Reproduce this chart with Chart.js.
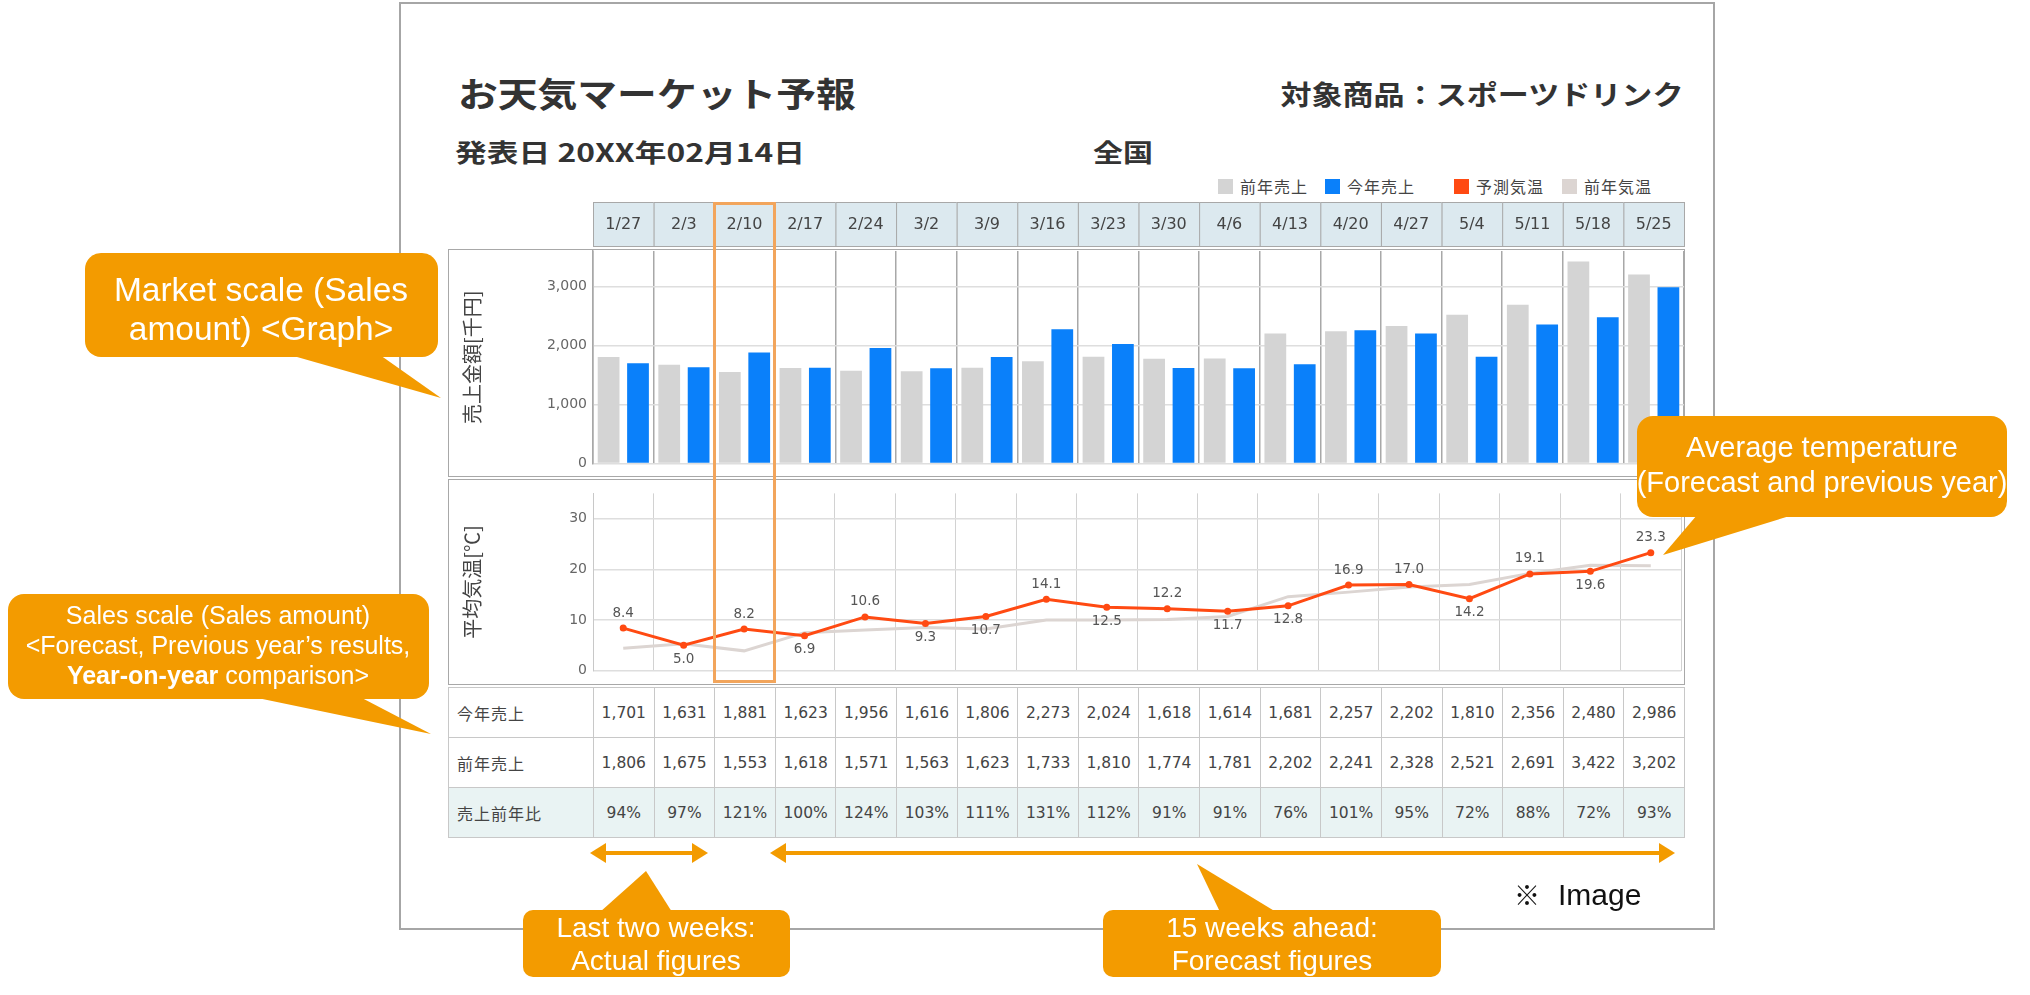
<!DOCTYPE html>
<html lang="ja">
<head>
<meta charset="utf-8">
<title>お天気マーケット予報</title>
<script src="https://cdn.jsdelivr.net/npm/chart.js@4.4.1/dist/chart.umd.min.js"></script>
<style>
  html, body { margin: 0; padding: 0; background: #fff; }
  body { width: 2030px; height: 995px; position: relative; overflow: hidden; font-family: "Noto Sans CJK JP", "DejaVu Sans", sans-serif; color: #333; }
  .abs { position: absolute; }
  #frame { left: 399px; top: 2px; width: 1316px; height: 928px; box-sizing: border-box; border: 2px solid #a6a6a6; }
  .head { font-weight: bold; color: #333; white-space: nowrap; line-height: 1; }
  #title { left: 458px; top: 76px; font-size: 34px; transform: scaleX(1.17); transform-origin: left center; }
  #product { right: 347px; top: 80px; font-size: 27px; transform: scaleX(1.15); transform-origin: right center; }
  #issued { left: 455px; top: 139px; font-size: 25px; transform: scaleX(1.27); transform-origin: left center; }
  #area { left: 1093px; top: 139px; font-size: 25px; transform: scaleX(1.2); transform-origin: left center; }
  .legend-item { top: 178px; height: 16px; display: flex; align-items: center; font-size: 16px; letter-spacing: 1px; color: #444; white-space: nowrap; }
  .legend-item i { display: inline-block; width: 15px; height: 15px; margin-right: 7px; }
  .panel { left: 448px; width: 1237px; box-sizing: border-box; border: 1.5px solid #a8a8a8; }
  canvas.abs { left: 448px; }
  #pick { box-sizing: border-box; border: 3px solid #f2a55c; }
  #grid { left: 448px; top: 687px; width: 1237px; border-collapse: collapse; table-layout: fixed; border: 1.5px solid #a8a8a8; }
  #grid td { height: 49px; border: 1px solid #c8c8c8; text-align: center; font-family: "DejaVu Sans", sans-serif; font-size: 15.5px; color: #444; padding: 0; }
  #grid td.lab { text-align: left; padding-left: 8px; font-family: "Noto Sans CJK JP", sans-serif; font-size: 16px; letter-spacing: 1px; }
  #grid tr.ratio td { background: #e9f3f3; }
</style>
</head>
<body>
<div id="frame" class="abs"></div>
<div id="title" class="abs head">お天気マーケット予報</div>
<div id="product" class="abs head">対象商品：スポーツドリンク</div>
<div id="issued" class="abs head">発表日 20XX年02月14日</div>
<div id="area" class="abs head">全国</div>
<div id="legend"></div>

<div class="abs panel" style="top:249px;height:228px"></div>
<div class="abs panel" style="top:479px;height:206px"></div>
<canvas id="salesChart" class="abs" style="top:198px" width="1237" height="280"></canvas>
<canvas id="tempChart" class="abs" style="top:479px" width="1237" height="206"></canvas>
<table id="grid" class="abs"></table>
<div id="pick" class="abs"></div>

<svg class="abs" style="left:0;top:0" width="2030" height="995">
  <g fill="#f39b00">
    <rect x="85" y="253" width="353" height="104" rx="16"/>
    <polygon points="290,355 380,355 441,398"/>
    <rect x="8" y="594" width="421" height="105" rx="16"/>
    <polygon points="253,697 360,697 431,734"/>
    <rect x="1637" y="416" width="370" height="101" rx="16"/>
    <polygon points="1697,515 1793,515 1663,555"/>
    <rect x="523" y="910" width="267" height="67" rx="10"/>
    <polygon points="600,912 672,912 646,871"/>
    <rect x="1103" y="910" width="338" height="67" rx="10"/>
    <polygon points="1220,912 1276,912 1197,864"/>
  </g>
  <g stroke="#f39b00" stroke-width="4">
    <line x1="600" y1="853" x2="698" y2="853"/>
    <line x1="780" y1="853" x2="1664" y2="853"/>
  </g>
  <g fill="#f39b00">
    <polygon points="590,853 606,843 606,863"/>
    <polygon points="708,853 692,843 692,863"/>
    <polygon points="770,853 786,843 786,863"/>
    <polygon points="1675,853 1659,843 1659,863"/>
  </g>
  <g fill="#fff" font-family="Liberation Sans, Arial, sans-serif" text-anchor="middle">
    <text x="261" y="301" font-size="33.5">Market scale (Sales</text>
    <text x="261" y="340" font-size="33.5">amount) &lt;Graph&gt;</text>
    <text x="218" y="624" font-size="25">Sales scale (Sales amount)</text>
    <text x="218" y="654" font-size="25">&lt;Forecast, Previous year’s results,</text>
    <text x="218" y="684" font-size="25"><tspan font-weight="bold">Year-on-year</tspan> comparison&gt;</text>
    <text x="1822" y="457" font-size="29">Average temperature</text>
    <text x="1822" y="492" font-size="29">(Forecast and previous year)</text>
    <text x="656" y="937" font-size="28">Last two weeks:</text>
    <text x="656" y="970" font-size="28">Actual figures</text>
    <text x="1272" y="937" font-size="28">15 weeks ahead:</text>
    <text x="1272" y="970" font-size="28">Forecast figures</text>
  </g>
  <text x="1514" y="905" font-size="26" font-family="Noto Sans CJK JP" fill="#111">※</text>
  <text x="1558" y="905" font-size="30" font-family="Liberation Sans, Arial, sans-serif" fill="#111">Image</text>
</svg>

<script>
// 週ラベル
const weeks = ['1/27', '2/3', '2/10', '2/17', '2/24', '3/2', '3/9', '3/16', '3/23', '3/30',
  '4/6', '4/13', '4/20', '4/27', '5/4', '5/11', '5/18', '5/25'];

// 売上 [千円]
const salesThisYear = [1701, 1631, 1881, 1623, 1956, 1616, 1806, 2273, 2024, 1618,
  1614, 1681, 2257, 2202, 1810, 2356, 2480, 2986];
const salesLastYear = [1806, 1675, 1553, 1618, 1571, 1563, 1623, 1733, 1810, 1774,
  1781, 2202, 2241, 2328, 2521, 2691, 3422, 3202];
const salesRatio = [94, 97, 121, 100, 124, 103, 111, 131, 112, 91, 91, 76, 101, 95, 72, 88, 72, 93];

// 平均気温 [℃]
const tempForecast = [8.4, 5.0, 8.2, 6.9, 10.6, 9.3, 10.7, 14.1, 12.5, 12.2,
  11.7, 12.8, 16.9, 17.0, 14.2, 19.1, 19.6, 23.3];
const tempLastYear = [4.4, 5.3, 3.9, 7.5, 8.0, 8.5, 8.2, 10.0, 10.0, 10.1,
  10.7, 14.6, 15.5, 16.5, 17.0, 19.2, 20.8, 20.7];
// ラベルを点の上に出すか下に出すか
const tempLabelSide = ['up', 'down', 'up', 'down', 'up', 'down', 'down', 'up', 'down', 'up',
  'down', 'down', 'up', 'up', 'down', 'up', 'down', 'up'];

const salesTicks = [0, 1000, 2000, 3000];
const tempTicks = [0, 10, 20, 30];

const tickFont = { family: 'DejaVu Sans', size: 14 };
const fmt = v => v.toLocaleString('en-US');

// 日付ヘッダー（x軸の位置を使って描く）
const weekHeader = {
  id: 'weekHeader',
  afterDraw(chart) {
    const { ctx, chartArea } = chart;
    const x = chart.scales.x;
    const w = x.width / weeks.length;
    const top = chartArea.top - 49, h = 44;
    ctx.save();
    ctx.font = '16px "DejaVu Sans"';
    ctx.textAlign = 'center';
    ctx.textBaseline = 'middle';
    weeks.forEach((label, i) => {
      const cx = x.getPixelForValue(i);
      ctx.fillStyle = '#dce9ef';
      ctx.fillRect(cx - w / 2, top, w, h);
      ctx.strokeStyle = '#a8a8a8';
      ctx.lineWidth = 1;
      ctx.strokeRect(cx - w / 2 + 0.5, top + 0.5, w, h);
      ctx.fillStyle = '#444';
      ctx.fillText(label, cx, top + h / 2 + 1);
    });
    ctx.restore();
  }
};

// 予測気温の値ラベル
const tempLabels = {
  id: 'tempLabels',
  afterDatasetsDraw(chart) {
    const { ctx } = chart;
    const meta = chart.getDatasetMeta(0);
    ctx.save();
    ctx.font = '13.5px "DejaVu Sans"';
    ctx.fillStyle = '#555';
    ctx.textAlign = 'center';
    ctx.textBaseline = 'middle';
    meta.data.forEach((pt, i) => {
      const dy = tempLabelSide[i] === 'up' ? -15 : 14;
      ctx.fillText(tempForecast[i].toFixed(1), pt.x, pt.y + dy);
    });
    ctx.restore();
  }
};

const salesChart = new Chart(document.getElementById('salesChart'), {
  type: 'bar',
  data: {
    labels: weeks,
    datasets: [
      { label: '前年売上', data: salesLastYear, backgroundColor: '#d4d4d4', categoryPercentage: 0.97, barPercentage: 0.74 },
      { label: '今年売上', data: salesThisYear, backgroundColor: '#0a80fa', categoryPercentage: 0.97, barPercentage: 0.74 }
    ]
  },
  options: {
    responsive: false,
    animation: false,
    layout: { padding: { top: 53, right: 1, bottom: 3, left: 0 } },
    plugins: { legend: { display: false }, tooltip: { enabled: false } },
    scales: {
      x: {
        grid: { offset: true, color: '#a8a8a8', lineWidth: 1.5, drawTicks: false },
        border: { display: false },
        ticks: { display: false }
      },
      y: {
        min: 0,
        max: 3600,
        afterBuildTicks: s => { s.ticks = salesTicks.map(v => ({ value: v })); },
        afterFit: s => { s.width = 145; },
        ticks: { padding: 6, color: '#666', font: tickFont, callback: v => fmt(v) },
        grid: { color: '#dedede', lineWidth: 1.5, drawTicks: false },
        border: { display: true, color: '#a8a8a8', width: 1.5 },
        title: {
          display: true, text: '売上金額[千円]', color: '#444',
          font: { family: 'Noto Sans CJK JP', size: 20 }, padding: { top: 12, bottom: 0 }
        }
      }
    }
  },
  plugins: [weekHeader]
});

const tempChart = new Chart(document.getElementById('tempChart'), {
  type: 'line',
  data: {
    labels: weeks,
    datasets: [
      { label: '予測気温', data: tempForecast, borderColor: '#ff4a12', backgroundColor: '#ff4a12', borderWidth: 3, pointRadius: 3.5, pointBorderWidth: 0, tension: 0 },
      { label: '前年気温', data: tempLastYear, borderColor: '#dcd5d2', backgroundColor: '#dcd5d2', borderWidth: 3, pointRadius: 0, tension: 0 }
    ]
  },
  options: {
    responsive: false,
    animation: false,
    layout: { padding: { top: 2, right: 1, bottom: 2, left: 0 } },
    plugins: { legend: { display: false }, tooltip: { enabled: false } },
    scales: {
      x: {
        offset: true,
        grid: { offset: true, color: '#d2d2d2', lineWidth: 1, drawTicks: false },
        border: { display: false },
        ticks: { display: false }
      },
      y: {
        min: 0,
        max: 35,
        afterBuildTicks: s => { s.ticks = tempTicks.map(v => ({ value: v })); },
        afterFit: s => { s.width = 145; },
        ticks: { padding: 6, color: '#666', font: tickFont },
        grid: { color: '#dedede', lineWidth: 1.5, drawTicks: false },
        border: { display: true, color: '#c8c8c8', width: 1 },
        title: {
          display: true, text: '平均気温[℃]', color: '#444',
          font: { family: 'Noto Sans CJK JP', size: 20 }, padding: { top: 12, bottom: 0 }
        }
      }
    }
  },
  plugins: [tempLabels]
});

// 凡例
const legendX = [1218, 1325, 1454, 1562];
const legendSets = [...salesChart.data.datasets, ...tempChart.data.datasets];
const legend = document.getElementById('legend');
legendSets.forEach((ds, i) => {
  const item = document.createElement('div');
  item.className = 'abs legend-item';
  item.style.left = legendX[i] + 'px';
  item.innerHTML = `<i style="background:${ds.backgroundColor}"></i>${ds.label}`;
  legend.appendChild(item);
});

// 表
const rows = [
  ['今年売上', salesThisYear.map(fmt), ''],
  ['前年売上', salesLastYear.map(fmt), ''],
  ['売上前年比', salesRatio.map(v => v + '%'), 'ratio']
];
const table = document.getElementById('grid');
let html = '<colgroup><col style="width:145px">' + weeks.map(() => '<col>').join('') + '</colgroup>';
rows.forEach(([label, vals, cls]) => {
  html += `<tr class="${cls}"><td class="lab">${label}</td>` + vals.map(v => `<td>${v}</td>`).join('') + '</tr>';
});
table.innerHTML = html;

// 発表週のハイライト枠
const xs = salesChart.scales.x;
const colW = xs.width / weeks.length;
const pick = document.getElementById('pick');
pick.style.left = (448 + xs.getPixelForValue(2) - colW / 2 - 1) + 'px';
pick.style.width = (colW + 2) + 'px';
pick.style.top = '202px';
pick.style.height = (683 - 202) + 'px';
</script>
</body>
</html>
